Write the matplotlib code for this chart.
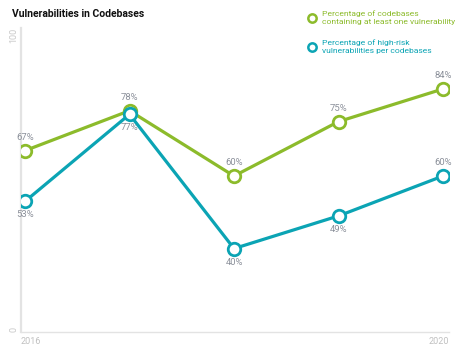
import matplotlib
matplotlib.use("Agg")
import matplotlib.pyplot as plt

years = [2016, 2017, 2018, 2019, 2020]
pct_any_vuln = [67, 78, 60, 75, 84]
pct_high_risk = [53, 77, 40, 49, 60]
series_labels = ["Percentage of codebases\ncontaining at least one vulnerability",
                 "Percentage of high-risk\nvulnerabilities per codebases"]
title = "Vulnerabilities in Codebases"

GREEN = "#8cbb2b"
TEAL = "#0ba4b4"
LABEL = "#8b909a"
AXIS = "#e3e3e3"

plt.rcParams['font.family'] = ['Roboto', 'DejaVu Sans']

fig = plt.figure(figsize=(4.74, 3.58), dpi=100)
ax = fig.add_axes([21/474, 1-332/358, (449-21)/474, (332-28)/358])

ymin, ymax = 17.0, 100.8
ax.set_ylim(ymin, ymax)
ax.set_xlim(2016 - 4/104.5, 2020 + 6/104.5)

for vals, col in [(pct_any_vuln, GREEN), (pct_high_risk, TEAL)]:
    ax.plot(years, vals, color=col, lw=2.3, marker='o', ms=9,
            mfc='white', mec=col, mew=2.0, zorder=3, solid_capstyle='round')

# labels
for x, v in zip(years, pct_any_vuln):
    ax.annotate(f"{v}%", (x, v), xytext=(0, 6.5), textcoords='offset points',
                ha='center', va='bottom', fontsize=6.8, color=LABEL)
for i, (x, v) in enumerate(zip(years, pct_high_risk)):
    if i == len(years) - 1:
        ax.annotate(f"{v}%", (x, v), xytext=(0, 6.5), textcoords='offset points',
                    ha='center', va='bottom', fontsize=6.8, color=LABEL)
    else:
        ax.annotate(f"{v}%", (x, v), xytext=(0, -6.5), textcoords='offset points',
                    ha='center', va='top', fontsize=6.8, color=LABEL)

for s in ['top', 'right']:
    ax.spines[s].set_visible(False)
ax.spines['left'].set_color(AXIS)
ax.spines['left'].set_linewidth(1.6)
ax.spines['bottom'].set_color(AXIS)
ax.spines['bottom'].set_linewidth(1.0)
ax.set_xticks([])
ax.set_yticks([])

# y axis end labels
ax.text(-0.017, 1.0, "100", transform=ax.transAxes, rotation=90, ha='center',
        va='top', fontsize=6.5, color="#c8c8c8")
ax.text(-0.017, 0.0, "0", transform=ax.transAxes, rotation=90, ha='center',
        va='bottom', fontsize=6.5, color="#c8c8c8")
# x axis end labels
ax.text(0.0, -0.015, str(years[0]), transform=ax.transAxes, ha='left', va='top',
        fontsize=6.5, color="#c0c0c0")
ax.text(1.0, -0.015, str(years[-1]), transform=ax.transAxes, ha='right', va='top',
        fontsize=6.5, color="#c0c0c0")

fig.text(12/474, 1-14/358, title, fontsize=7.5, fontweight='bold', color='#111111',
         ha='left', va='center')

# legend
for (yy, col, lab) in [(17.5, GREEN, series_labels[0]), (46.5, TEAL, series_labels[1])]:
    fig.lines.append(plt.Line2D([312/474], [1-yy/358], transform=fig.transFigure,
                                marker='o', ms=6, mfc='white', mec=col, mew=1.8))
    fig.text(322/474, 1-yy/358, lab, fontsize=6.1, color=col, ha='left', va='center',
             linespacing=1.45)

fig.savefig("out.png", dpi=100, facecolor='white')
